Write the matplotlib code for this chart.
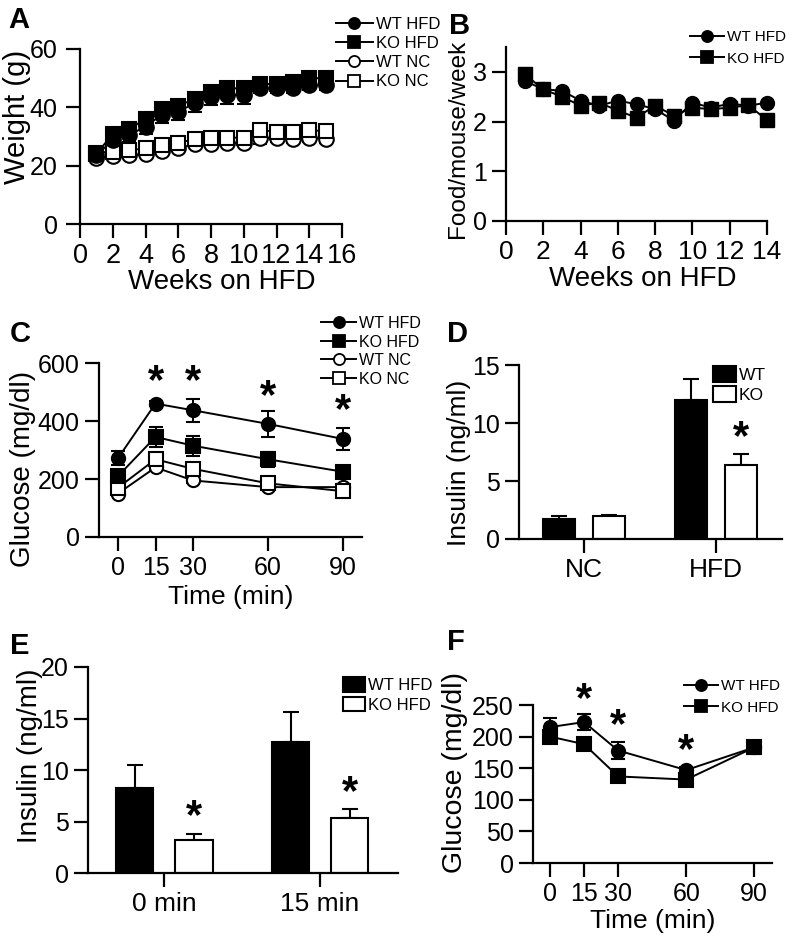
import numpy as np
import matplotlib.pyplot as plt
from matplotlib.lines import Line2D
from matplotlib.patches import Patch

plt.rcParams['font.family'] = ['Liberation Sans', 'DejaVu Sans']

# (A) body weight
weeks_a = np.arange(1, 16)
a_wt_hfd = [23.5, 28.8, 30.5, 33.4, 37.5, 38.5, 41.4, 43.7, 44.2, 44.2, 46.5, 46.5, 46.5, 47.6, 47.5]
a_ko_hfd = [24.0, 30.9, 32.6, 36.0, 39.5, 40.6, 42.8, 45.4, 46.5, 46.5, 48.0, 48.0, 48.6, 50.0, 50.0]
a_wt_nc = [22.5, 23.4, 23.5, 24.0, 25.0, 26.0, 27.4, 27.4, 27.6, 27.8, 29.5, 29.5, 29.3, 29.5, 29.3]
a_ko_nc = [24.5, 24.8, 25.2, 26.0, 27.0, 27.9, 29.0, 29.5, 29.6, 29.6, 32.2, 31.6, 31.6, 32.2, 31.8]
a_err_wt_hfd = [1.0, 2.0, 2.5, 2.5, 3.0, 3.0, 3.0, 3.0, 3.0, 3.0, 1.5, 1.5, 1.5, 1.5, 1.5]
a_err_ko_hfd = [1.0, 1.5, 2.0, 2.0, 2.0, 2.0, 2.0, 2.0, 2.0, 2.0, 1.5, 1.5, 1.5, 1.5, 1.5]
a_err_nc = [1.0, 1.0, 1.0, 1.0, 1.0, 1.0, 1.0, 1.0, 1.0, 1.0, 2.0, 1.5, 1.5, 1.5, 1.5]

# (B) food intake
weeks_b = np.arange(1, 15)
b_wt_hfd = [2.82, 2.65, 2.62, 2.42, 2.32, 2.42, 2.35, 2.25, 2.02, 2.38, 2.28, 2.36, 2.32, 2.38]
b_ko_hfd = [2.95, 2.65, 2.50, 2.32, 2.38, 2.22, 2.08, 2.32, 2.12, 2.28, 2.25, 2.28, 2.33, 2.03]

# (C) GTT
time_c = [0, 15, 30, 60, 90]
c_wt_hfd = [272, 460, 437, 390, 338]
c_ko_hfd = [210, 345, 315, 268, 225]
c_wt_nc = [150, 240, 195, 172, 172]
c_ko_nc = [170, 268, 235, 185, 158]
c_err_wt_hfd = [25, 8, 40, 45, 38]
c_err_ko_hfd = [20, 35, 35, 25, 18]
c_err_wt_nc = [10, 10, 10, 8, 10]
c_err_ko_nc = [12, 15, 12, 10, 10]
c_star_x = [15, 30, 60, 90]
c_star_y = [535, 535, 482, 435]

# (D) fasting insulin
groups_d = ['NC', 'HFD']
d_wt = [1.7, 12.0]
d_ko = [2.0, 6.4]
d_err_wt = [0.25, 1.8]
d_err_ko = [0.1, 0.9]

# (E) insulin during GTT
groups_e = ['0 min', '15 min']
e_wt = [8.3, 12.7]
e_ko = [3.2, 5.3]
e_err_wt = [2.2, 2.9]
e_err_ko = [0.6, 0.9]

# (F) ITT
time_f = [0, 15, 30, 60, 90]
f_wt_hfd = [215, 223, 178, 147, 183]
f_ko_hfd = [200, 188, 137, 132, 183]
f_err_wt = [15, 13, 14, 5, 10]
f_err_ko = [8, 5, 5, 5, 8]
f_star_x = [15, 30, 60]
f_star_y = [258, 216, 177]

W, H = 800, 946
fig = plt.figure(figsize=(W / 100, H / 100), dpi=100)


def px_axes(l, t, r, b):
    ax = fig.add_axes([l / W, 1 - b / H, (r - l) / W, (b - t) / H])
    for s in ['top', 'right']:
        ax.spines[s].set_visible(False)
    for s in ['left', 'bottom']:
        ax.spines[s].set_linewidth(1.6)
    ax.tick_params(width=1.6, length=10, labelsize=18)
    ax.tick_params(axis='x', pad=4)
    ax.tick_params(axis='y', pad=4)
    return ax


def labels(ax, xl, xpos, yl, ypos, xfs=19, yfs=19):
    if xl:
        ax.set_xlabel(xl, fontsize=xfs)
        ax.xaxis.set_label_coords(*xpos)
        ax.xaxis.label.set_va('center')
    ax.set_ylabel(yl, fontsize=yfs)
    ax.yaxis.set_label_coords(*ypos)
    ax.yaxis.label.set_va('center')


def series(ax, x, y, err, marker, filled, ms=10):
    fc = 'black' if filled else 'white'
    ax.errorbar(x, y, yerr=err, fmt='-', color='black', lw=1.4, elinewidth=1.4,
                capsize=5, capthick=1.4, marker=marker, ms=ms, mfc=fc, mec='black',
                mew=1.5, clip_on=False, zorder=3)


def stars(ax, xs, ys):
    for sx, sy in zip(xs, ys):
        ax.text(sx, sy, '*', fontsize=30, fontweight='bold', ha='center', va='center')


def letter(x, y, s):
    fig.text(x / W, 1 - y / H, s, fontsize=21, fontweight='bold', va='top', ha='left')


def line_legend(ax, labels, markers, fills, x, y, fs, spacing):
    handles = [Line2D([], [], color='black', lw=1.4, marker=m, ms=8,
                      mfc='black' if f else 'white', mec='black', mew=1.3)
               for m, f in zip(markers, fills)]
    ax.legend(handles, labels, loc='upper left', bbox_to_anchor=(x / W, 1 - y / H),
              bbox_transform=fig.transFigure, frameon=False, fontsize=fs,
              handlelength=2.2, handletextpad=0.2, labelspacing=spacing,
              borderpad=0, borderaxespad=0)


def bar_legend(ax, labels, x, y, fs):
    handles = [Patch(facecolor='black', edgecolor='black', lw=1.5),
               Patch(facecolor='white', edgecolor='black', lw=1.5)]
    ax.legend(handles, labels, loc='upper left', bbox_to_anchor=(x / W, 1 - y / H),
              bbox_transform=fig.transFigure, frameon=False, fontsize=fs,
              handlelength=1.3, handleheight=1.0, handletextpad=0.2, labelspacing=0.2,
              borderpad=0, borderaxespad=0)


def bars(ax, wt, ko, err_wt, err_ko, labels):
    x = np.arange(len(wt))
    ax.bar(x - 0.19, wt, 0.24, color='black', edgecolor='black', lw=1.5, zorder=2)
    ax.bar(x + 0.19, ko, 0.24, color='white', edgecolor='black', lw=1.5, zorder=2)
    ax.errorbar(x - 0.19, wt, yerr=[np.zeros(len(wt)), err_wt], fmt='none',
                ecolor='black', elinewidth=1.5, capsize=6, capthick=1.5, zorder=1)
    ax.errorbar(x + 0.19, ko, yerr=[np.zeros(len(ko)), err_ko], fmt='none',
                ecolor='black', elinewidth=1.5, capsize=6, capthick=1.5, zorder=1)
    ax.set_xticks(x)
    ax.set_xticklabels(labels)
    ax.set_xlim(-0.49, 1.5)


# ---- A ----
ax = px_axes(80, 49, 342, 224)
series(ax, weeks_a, a_wt_nc, a_err_nc, 'o', False, ms=10.5)
series(ax, weeks_a, a_ko_nc, a_err_nc, 's', False, ms=10.5)
series(ax, weeks_a, a_wt_hfd, a_err_wt_hfd, 'o', True, ms=10.5)
series(ax, weeks_a, a_ko_hfd, a_err_ko_hfd, 's', True, ms=10.5)
ax.set_xlim(0, 16)
ax.set_ylim(0, 60)
ax.set_xticks(range(0, 17, 2))
ax.set_yticks([0, 20, 40, 60])
ax.tick_params(axis='x', labelsize=19.5, pad=4)
ax.tick_params(axis='y', pad=6)
labels(ax, 'Weeks on HFD', (0.54, -0.33), 'Weight (g)', (-0.24, 0.61), xfs=20, yfs=21)
line_legend(ax, ['WT HFD', 'KO HFD', 'WT NC', 'KO NC'], ['o', 's', 'o', 's'],
            [True, True, False, False], 336, 17, 12, 0.25)
letter(8, 6, 'A')

# ---- B ----
ax = px_axes(506, 47, 767, 221)
ax.plot(weeks_b, b_wt_hfd, '-o', color='black', lw=1.4, ms=10, clip_on=False, zorder=3)
ax.plot(weeks_b, b_ko_hfd, '-s', color='black', lw=1.4, ms=10, clip_on=False, zorder=3)
ax.set_xlim(0, 14)
ax.set_ylim(0, 3.5)
ax.set_xticks(range(0, 15, 2))
ax.set_yticks([0, 1, 2, 3])
ax.tick_params(axis='x', labelsize=19)
labels(ax, 'Weeks on HFD', (0.525, -0.335), 'Food/mouse/week', (-0.184, 0.47), xfs=20, yfs=17.5)
line_legend(ax, ['WT HFD', 'KO HFD'], ['o', 's'], [True, True], 690, 30, 11, 0.5)
letter(449, 12, 'B')

# ---- C ----
ax = px_axes(99, 363, 362, 537)
series(ax, time_c, c_wt_nc, c_err_wt_nc, 'o', False, ms=9.5)
series(ax, time_c, c_ko_nc, c_err_ko_nc, 's', False, ms=9.5)
series(ax, time_c, c_ko_hfd, c_err_ko_hfd, 's', True, ms=9.5)
series(ax, time_c, c_wt_hfd, c_err_wt_hfd, 'o', True, ms=9.5)
stars(ax, c_star_x, c_star_y)
ax.set_xlim(-7.6, 97.6)
ax.set_ylim(0, 600)
ax.set_xticks(time_c)
ax.set_yticks([0, 200, 400, 600])
labels(ax, 'Time (min)', (0.5, -0.345), 'Glucose (mg/dl)', (-0.289, 0.39), xfs=19, yfs=20)
line_legend(ax, ['WT HFD', 'KO HFD', 'WT NC', 'KO NC'], ['o', 's', 'o', 's'],
            [True, True, False, False], 321, 316, 11.5, 0.22)
letter(10, 320, 'C')

# ---- D ----
ax = px_axes(519, 365, 782, 539)
bars(ax, d_wt, d_ko, d_err_wt, d_err_ko, groups_d)
stars(ax, [1.19], [d_ko[1] + d_err_ko[1] + 1.4])
ax.set_ylim(0, 15)
ax.set_yticks([0, 5, 10, 15])
ax.tick_params(axis='x', labelsize=19)
labels(ax, None, None, 'Insulin (ng/ml)', (-0.228, 0.44), yfs=19)
bar_legend(ax, ['WT', 'KO'], 713, 366, 12.5)
letter(447, 320, 'D')

# ---- E ----
ax = px_axes(88, 667, 398, 873)
bars(ax, e_wt, e_ko, e_err_wt, e_err_ko, groups_e)
stars(ax, [0.19, 1.19], [e_ko[0] + e_err_ko[0] + 1.6, e_ko[1] + e_err_ko[1] + 1.6])
ax.set_ylim(0, 20)
ax.set_yticks([0, 5, 10, 15, 20])
ax.tick_params(axis='x', labelsize=19)
labels(ax, None, None, 'Insulin (ng/ml)', (-0.187, 0.57), yfs=20)
bar_legend(ax, ['WT HFD', 'KO HFD'], 343, 677, 12)
letter(10, 632, 'E')

# ---- F ----
ax = px_axes(533, 705, 772, 863)
series(ax, time_f, f_ko_hfd, f_err_ko, 's', True, ms=9.5)
series(ax, time_f, f_wt_hfd, f_err_wt, 'o', True, ms=9.5)
stars(ax, f_star_x, f_star_y)
ax.set_xlim(-7.5, 97.8)
ax.set_ylim(0, 250)
ax.set_xticks(time_f)
ax.set_yticks([0, 50, 100, 150, 200, 250])
labels(ax, 'Time (min)', (0.5, -0.367), 'Glucose (mg/dl)', (-0.326, 0.57), xfs=19, yfs=20.5)
line_legend(ax, ['WT HFD', 'KO HFD'], ['o', 's'], [True, True], 684, 679, 11, 0.5)
letter(447, 628, 'F')

fig.savefig('out.png', dpi=100)
